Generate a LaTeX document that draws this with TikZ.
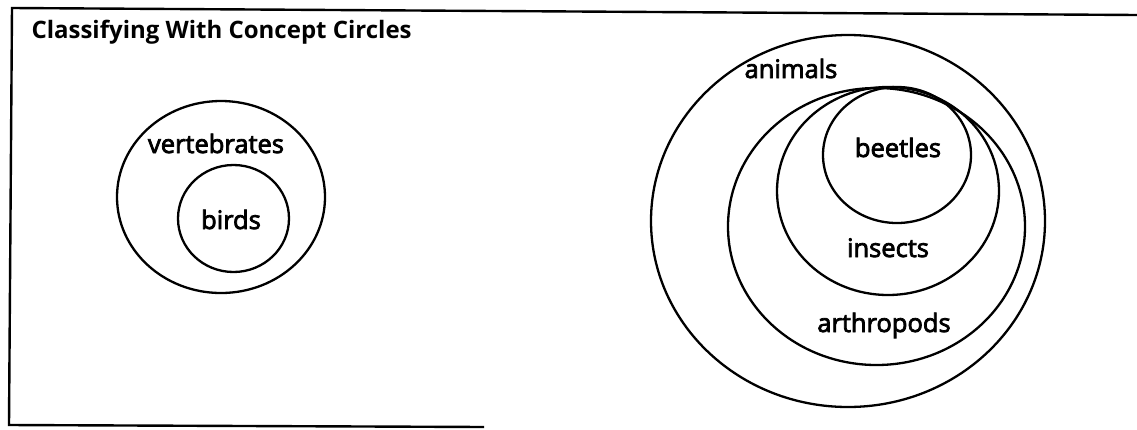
\documentclass[tikz,border=0pt]{standalone}
\usepackage{fontspec}
\setmainfont{Open Sans}
\newfontfamily\lblfont[FakeBold=3]{Open Sans}
\usetikzlibrary{shapes.geometric}
\tikzset{
  ring/.style={draw, ellipse, line width=2.3pt, inner sep=0pt},
  lbl/.style={anchor=base, font=\lblfont\fontsize{25.5}{28}\selectfont},
  frame/.style={line width=2.4pt}
}
\begin{document}
\begin{tikzpicture}[x=1pt, y=-1pt]
		\useasboundingbox (0, 0) rectangle (1137, 429);
		
		% Frame and title
		\draw[frame] (1137, 15) -- (12, 8) -- (9, 425) -- (484, 427);
		\node[anchor=base west, font=\fontsize{24}{27}\selectfont\bfseries] (title) at (28, 38) {Classifying With Concept Circles};
		
		% Left group
		\node[ring, minimum width=208pt, minimum height=192pt] (vertebrates) at (221, 197) {};
		\node[ring, minimum width=111pt, minimum height=107pt] (birds) at (233.5, 218.5) {};
		\node[lbl] (vertebrateslbl) at (216, 153) {vertebrates};
		\node[lbl] (birdslbl) at (231, 229) {birds};
		
		% Right group
		\node[ring, minimum width=394pt, minimum height=372pt] (animals) at (848, 221) {};
		\node[ring, minimum width=297pt, minimum height=277pt] (arthropods) at (876.5, 226.5) {};
		\node[ring, minimum width=222pt, minimum height=208pt] (insects) at (888, 191) {};
		\node[ring, minimum width=148pt, minimum height=136pt] (beetles) at (897, 155) {};
		
		\node[lbl] (animalslbl) at (791, 78) {animals};
		\node[lbl] (beetleslbl) at (898, 157) {beetles};
		\node[lbl] (insectslbl) at (888, 257) {insects};
		\node[lbl] (arthropodslbl) at (884, 332) {arthropods};
	\end{tikzpicture}
\end{document}
